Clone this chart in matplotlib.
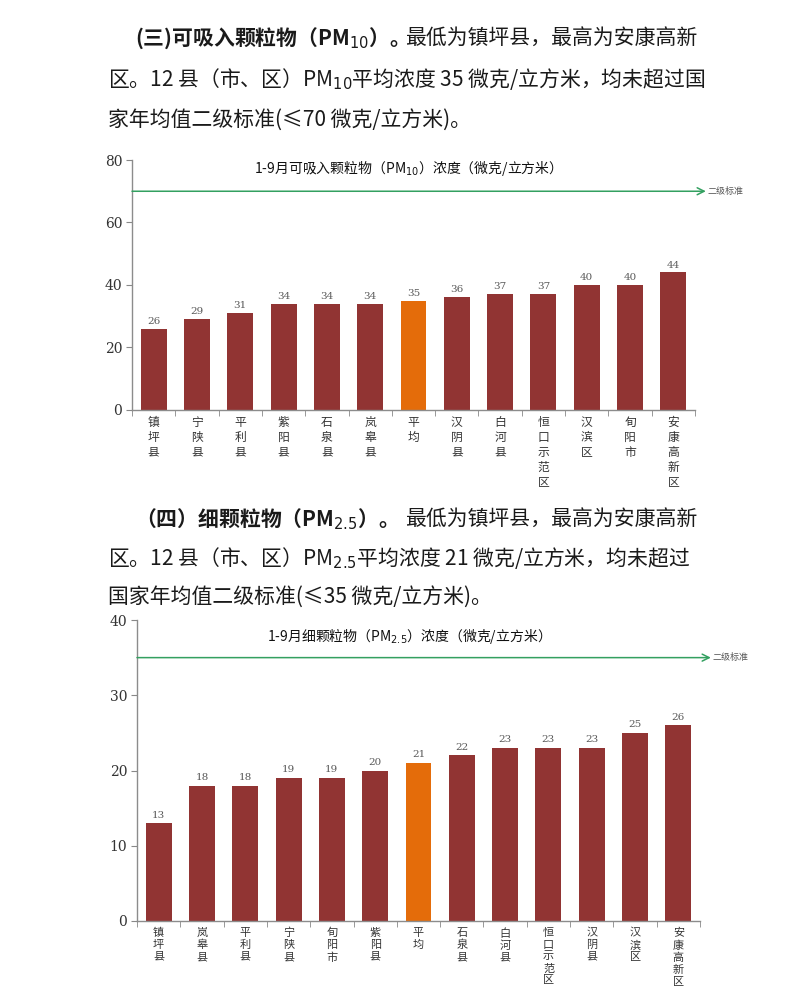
import matplotlib
matplotlib.use('Agg')
import matplotlib.pyplot as plt

plt.rcParams['font.family'] = ['Noto Sans CJK SC', 'DejaVu Sans']
plt.rcParams['axes.unicode_minus'] = False

# PM10 data (1-9月)
pm10_names = ['镇坪县', '宁陕县', '平利县', '紫阳县', '石泉县', '岚皋县', '平均',
              '汉阴县', '白河县', '恒口示范区', '汉滨区', '旬阳市', '安康高新区']
pm10_values = [26, 29, 31, 34, 34, 34, 35, 36, 37, 37, 40, 40, 44]
pm10_standard = 70

# PM2.5 data (1-9月)
pm25_names = ['镇坪县', '岚皋县', '平利县', '宁陕县', '旬阳市', '紫阳县', '平均',
              '石泉县', '白河县', '恒口示范区', '汉阴县', '汉滨区', '安康高新区']
pm25_values = [13, 18, 18, 19, 19, 20, 21, 22, 23, 23, 23, 25, 26]
pm25_standard = 35

W, H = 800, 994
BAR = '#913433'
AVG = '#E46C0A'
GREEN = '#33A060'
TXT = '#1a1a1a'

fig = plt.figure(figsize=(W / 100, H / 100), dpi=100)
fig.patch.set_facecolor('white')


def px(x, y):
    return x / W, 1 - y / H


def draw_bars(rect, names, values, ymax, ystep, standard, title, title_y,
              lab_size, lab_spacing, lab_pad):
    l, t, r, b = rect
    ax = fig.add_axes([l / W, 1 - b / H, (r - l) / W, (b - t) / H])
    n = len(names)
    xs = list(range(n))
    colors = [AVG if nm == '平均' else BAR for nm in names]
    bars = ax.bar(xs, values, width=0.6, color=colors, zorder=2)
    for rect_, v in zip(bars, values):
        ax.text(rect_.get_x() + rect_.get_width() / 2, v + ymax * 0.012, str(v),
                ha='center', va='bottom', fontsize=7.5, color='#595959',
                family='DejaVu Serif')
    ax.set_xlim(-0.5, n - 0.5)
    ax.set_ylim(0, ymax)
    ax.set_yticks(range(0, ymax + 1, ystep))
    ax.set_xticks(xs)
    ax.set_xticklabels(['\n'.join(nm) for nm in names], fontsize=lab_size,
                       linespacing=lab_spacing, color='#333333')
    ax.set_xticks([i - 0.5 for i in range(n + 1)], minor=True)
    ax.tick_params(axis='x', which='major', length=0, pad=lab_pad)
    ax.tick_params(axis='x', which='minor', length=4, color='#888888', direction='out')
    ax.tick_params(axis='y', length=4, color='#888888', labelsize=10,
                   labelcolor='#333333', pad=3)
    for lab in ax.get_yticklabels():
        lab.set_family('DejaVu Serif')
    for s in ('top', 'right'):
        ax.spines[s].set_visible(False)
    for s in ('left', 'bottom'):
        ax.spines[s].set_color('#8c8c8c')
        ax.spines[s].set_linewidth(1.0)

    # 二级标准 line
    ax.annotate('', xy=(n - 0.5 + 0.25, standard), xytext=(-0.5, standard),
                arrowprops=dict(arrowstyle='->,head_length=0.5,head_width=0.25',
                                color=GREEN, lw=1.1, shrinkA=0, shrinkB=0),
                annotation_clip=False)
    ax.text(n - 0.5 + 0.3, standard, '二级标准', fontsize=6.5, color='#555555',
            ha='left', va='center', clip_on=False)

    fig.text(*px(405, title_y), title, fontsize=10, color='#111111',
             ha='center', va='center')
    return ax


def para(lines, bold_head, y0, dy):
    # first line: bold head + regular tail, right aligned to the text edge
    fig.text(*px(135, y0), bold_head, fontsize=15, fontweight='bold', color=TXT,
             ha='left', va='center')
    fig.text(*px(697, y0), lines[0], fontsize=15, color=TXT, ha='right', va='center')
    for i, ln in enumerate(lines[1:], start=1):
        fig.text(*px(108, y0 + i * dy), ln, fontsize=15, color=TXT,
                 ha='left', va='center')


para(['最低为镇坪县，最高为安康高新',
      '区。12 县（市、区）PM$_{10}$平均浓度 35 微克/立方米，均未超过国',
      '家年均值二级标准(≤70 微克/立方米)。'],
     '(三)可吸入颗粒物（PM$_{10}$）。', 38, 41)

draw_bars((132, 160, 695, 410), pm10_names, pm10_values, 80, 20, pm10_standard,
          '1-9月可吸入颗粒物（PM$_{10}$）浓度（微克/立方米）', 168, 8.5, 1.2, 4)

para(['最低为镇坪县，最高为安康高新',
      '区。12 县（市、区）PM$_{2.5}$平均浓度 21 微克/立方米，均未超过',
      '国家年均值二级标准(≤35 微克/立方米)。'],
     '（四）细颗粒物（PM$_{2.5}$）。', 519, 39)

draw_bars((137, 620, 700, 921), pm25_names, pm25_values, 40, 10, pm25_standard,
          '1-9月细颗粒物（PM$_{2.5}$）浓度（微克/立方米）', 636, 8, 1.22, 5)

fig.savefig('out.png', dpi=100, facecolor='white')
